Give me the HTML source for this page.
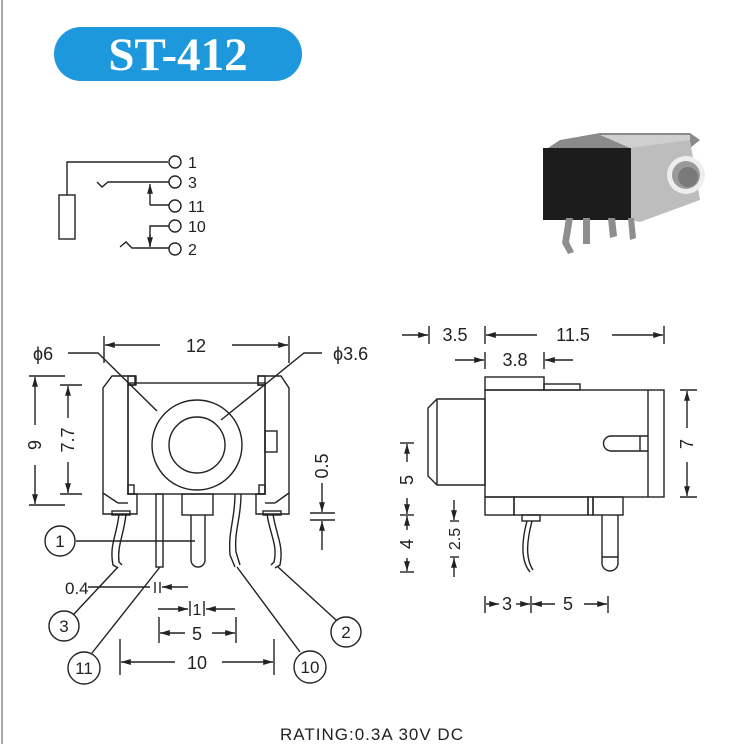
<!DOCTYPE html>
<html><head><meta charset="utf-8"><style>
html,body{margin:0;padding:0;background:#fff;width:735px;height:744px;overflow:hidden}
svg{display:block}
text{font-family:"Liberation Sans",Arial,sans-serif;fill:#222}
</style></head><body>
<svg width="735" height="744" viewBox="0 0 735 744" xmlns="http://www.w3.org/2000/svg">
<defs>
<marker id="a" viewBox="0 0 10 10" refX="10" refY="5" markerWidth="7" markerHeight="7" orient="auto-start-reverse"><path d="M0,2 L10,5 L0,8 z" fill="#222"/></marker>
</defs>
<rect x="1" y="0" width="2" height="744" fill="#aaa"/>
<rect x="54" y="27" width="248" height="54" rx="27" fill="#1e98dc"/>
<text x="178" y="70" text-anchor="middle" font-weight="bold" font-size="47" style="font-family:'Liberation Serif',serif;fill:#fff">ST-412</text>

<g stroke="#222" stroke-width="1.4" fill="none">
<polyline points="168,162 67,162 67,195"/>
<rect x="59" y="195" width="16" height="44"/>
<circle cx="175" cy="162" r="6"/>
<polyline points="97,182 102,187 108,182 169,182"/>
<circle cx="175" cy="182" r="6"/>
<line x1="150" y1="205" x2="150" y2="184" marker-end="url(#a)"/>
<line x1="150" y1="205" x2="169" y2="205"/>
<circle cx="175" cy="206" r="6"/>
<polyline points="169,226 150,226 150,246"/>
<line x1="150" y1="235" x2="150" y2="247" marker-end="url(#a)"/>
<circle cx="175" cy="226" r="6"/>
<polyline points="120,247 126,242 132,248 169,248"/>
<circle cx="175" cy="249" r="6"/>
</g>
<g font-size="16">
<text x="188" y="168">1</text><text x="188" y="188">3</text><text x="188" y="212">11</text><text x="188" y="232">10</text><text x="188" y="255">2</text>
</g>

<g>
<polygon points="560,140 600,133 690,133 700,140 690,148 630,150 545,150" fill="#8a8a8a"/>
<polygon points="600,135 690,135 690,145 630,148" fill="#cfcfcf"/>
<polygon points="630,148 690,140 700,200 640,222 630,220" fill="#bdbdbd"/>
<rect x="543" y="148" width="88" height="72" fill="#1c1c1c"/>
<circle cx="686" cy="175" r="19" fill="#eee"/>
<circle cx="686" cy="175" r="14" fill="#9a9a9a"/>
<circle cx="688" cy="177" r="10" fill="#7a7a7a"/>
<path d="M566,218 L562,243 L568,254 L574,252 L569,242 L573,218Z" fill="#8e8e8e"/>
<rect x="583" y="218" width="7" height="26" fill="#8e8e8e"/>
<path d="M608,218 L610,238 L617,236 L615,218Z" fill="#8e8e8e"/>
<path d="M628,218 L630,240 L636,238 L634,218Z" fill="#8e8e8e"/>
</g>

<g stroke="#222" stroke-width="1.4" fill="none">
<line x1="104" y1="336" x2="104" y2="363"/><line x1="289" y1="336" x2="289" y2="363"/>
<line x1="160" y1="345" x2="105" y2="345" marker-end="url(#a)"/>
<line x1="232" y1="345" x2="288" y2="345" marker-end="url(#a)"/>
<polyline points="68,353 98,353 157,411"/>
<polyline points="322,353 304,353 221,420"/>
<polygon points="112,376 135,376 135,385 128,385 128,494 137,494 137,514 103,514 103,388"/>
<line x1="103" y1="493" x2="118" y2="503"/><line x1="118" y1="503" x2="128" y2="503"/>
<rect x="128" y="376" width="8" height="9"/><rect x="128" y="485" width="6" height="9"/>
<polygon points="281,376 258,376 258,385 265,385 265,494 256,494 256,514 289,514 289,388"/>
<line x1="289" y1="493" x2="275" y2="503"/><line x1="275" y1="503" x2="265" y2="503"/>
<rect x="258" y="376" width="7" height="9"/><rect x="259" y="485" width="6" height="9"/>
<rect x="128" y="383" width="137" height="111"/>
<rect x="265" y="431" width="12" height="21"/>
<circle cx="197" cy="445" r="45"/><circle cx="197" cy="445" r="28"/>
<rect x="156" y="494" width="7" height="73"/>
<rect x="182" y="494" width="31" height="21"/>
<path d="M191,515 L191,560 A7,7 0 0 0 205,560 L205,515"/>
<path d="M235,494 C235,520 228,530 230,555 L235,567 M241,494 C241,520 234,530 236,552 L240,565"/>
<path d="M119,514 C117,535 109,545 113,565 L118,568 M126,514 C124,535 117,545 119,562 L122,565"/>
<path d="M273,514 C276,535 284,545 280,565 L275,568 M267,514 C270,535 278,545 274,562 L271,565"/>
<rect x="112" y="511" width="18" height="4"/><rect x="263" y="511" width="18" height="4"/>
<line x1="76" y1="541" x2="195" y2="541"/>
<line x1="74" y1="614" x2="118" y2="567"/>
<line x1="92" y1="653" x2="160" y2="567"/>
<line x1="300" y1="652" x2="237" y2="567"/>
<line x1="336" y1="620" x2="278" y2="567"/>
<circle cx="60" cy="541" r="15"/><circle cx="64" cy="626" r="15"/><circle cx="84" cy="668" r="16"/>
<circle cx="310" cy="667" r="16"/><circle cx="346" cy="632" r="15"/>
<line x1="88" y1="587" x2="150" y2="587"/>
<line x1="155" y1="582" x2="155" y2="593"/><line x1="160" y1="582" x2="160" y2="593"/>
<line x1="188" y1="587" x2="162" y2="587" marker-end="url(#a)"/>
<line x1="158" y1="609" x2="188" y2="609" marker-end="url(#a)"/>
<line x1="190" y1="601" x2="190" y2="616"/><line x1="204" y1="601" x2="204" y2="616"/>
<line x1="235" y1="609" x2="206" y2="609" marker-end="url(#a)"/>
<line x1="159" y1="617" x2="159" y2="643"/><line x1="236" y1="617" x2="236" y2="643"/>
<line x1="185" y1="633" x2="160" y2="633" marker-end="url(#a)"/>
<line x1="212" y1="633" x2="235" y2="633" marker-end="url(#a)"/>
<line x1="120" y1="639" x2="120" y2="675"/><line x1="274" y1="639" x2="274" y2="675"/>
<line x1="175" y1="662" x2="121" y2="662" marker-end="url(#a)"/>
<line x1="222" y1="662" x2="273" y2="662" marker-end="url(#a)"/>
<line x1="29" y1="376" x2="65" y2="376"/><line x1="29" y1="505" x2="65" y2="505"/>
<line x1="35" y1="425" x2="35" y2="377" marker-end="url(#a)"/>
<line x1="35" y1="465" x2="35" y2="504" marker-end="url(#a)"/>
<line x1="60" y1="385" x2="82" y2="385"/><line x1="60" y1="494" x2="82" y2="494"/>
<line x1="68" y1="418" x2="68" y2="386" marker-end="url(#a)"/>
<line x1="68" y1="462" x2="68" y2="493" marker-end="url(#a)"/>
<line x1="310" y1="513" x2="335" y2="513"/><line x1="310" y1="520" x2="335" y2="520"/>
<line x1="322" y1="483" x2="322" y2="512" marker-end="url(#a)"/>
<line x1="322" y1="550" x2="322" y2="521" marker-end="url(#a)"/>
</g>
<g font-size="18">
<text x="196" y="352" text-anchor="middle">12</text>
<text x="33" y="360">ϕ6</text>
<text x="333" y="360">ϕ3.6</text>
<text x="65" y="594" font-size="17">0.4</text>
<text x="197" y="615" text-anchor="middle" font-size="16">1</text>
<text x="197" y="640" text-anchor="middle">5</text>
<text x="197" y="669" text-anchor="middle">10</text>
<text x="60" y="547" text-anchor="middle" font-size="17">1</text>
<text x="64" y="632" text-anchor="middle" font-size="17">3</text>
<text x="84" y="674" text-anchor="middle" font-size="17">11</text>
<text x="310" y="673" text-anchor="middle" font-size="17">10</text>
<text x="346" y="638" text-anchor="middle" font-size="17">2</text>
<text transform="translate(41,445) rotate(-90)" text-anchor="middle">9</text>
<text transform="translate(74,440) rotate(-90)" text-anchor="middle">7.7</text>
<text transform="translate(328,466) rotate(-90)" text-anchor="middle">0.5</text>
</g>

<g stroke="#222" stroke-width="1.4" fill="none">
<line x1="429" y1="326" x2="429" y2="344"/><line x1="485" y1="326" x2="485" y2="344"/><line x1="664" y1="326" x2="664" y2="344"/>
<line x1="402" y1="335" x2="428" y2="335" marker-end="url(#a)"/>
<line x1="537" y1="335" x2="486" y2="335" marker-end="url(#a)"/>
<line x1="612" y1="335" x2="663" y2="335" marker-end="url(#a)"/>
<line x1="485" y1="352" x2="485" y2="369"/><line x1="544" y1="352" x2="544" y2="369"/>
<line x1="455" y1="360" x2="484" y2="360" marker-end="url(#a)"/>
<line x1="573" y1="360" x2="545" y2="360" marker-end="url(#a)"/>
<rect x="485" y="377" width="59" height="13"/>
<rect x="544" y="384" width="36" height="6"/>
<rect x="485" y="390" width="179" height="107"/>
<line x1="648" y1="390" x2="648" y2="497"/>
<polygon points="485,399 437,399 428,408 428,476 437,485 485,485"/>
<line x1="437" y1="399" x2="437" y2="485"/>
<path d="M648,436 L611,436 A7.5,7.5 0 0 0 611,451 L648,451 M640,436 L640,451"/>
<rect x="485" y="497" width="29" height="18"/>
<rect x="514" y="497" width="74" height="18"/>
<rect x="588" y="497" width="5" height="18"/>
<rect x="593" y="497" width="30" height="18"/>
<path d="M602,515 L602,563 A8,8 0 0 0 618,563 L618,515 M602,557 L618,557"/>
<rect x="522" y="515" width="18" height="6"/>
<path d="M527,521 C522,540 520,560 530,572 M532,521 C527,540 525,558 533,570"/>
<line x1="680" y1="390" x2="697" y2="390"/><line x1="680" y1="497" x2="697" y2="497"/>
<line x1="687" y1="428" x2="687" y2="391" marker-end="url(#a)"/>
<line x1="687" y1="462" x2="687" y2="496" marker-end="url(#a)"/>
<line x1="400" y1="443" x2="414" y2="443"/><line x1="400" y1="515" x2="414" y2="515"/><line x1="400" y1="572" x2="414" y2="572"/>
<line x1="407" y1="462" x2="407" y2="444" marker-end="url(#a)"/>
<line x1="407" y1="498" x2="407" y2="514" marker-end="url(#a)"/>
<line x1="407" y1="530" x2="407" y2="516" marker-end="url(#a)"/>
<line x1="407" y1="558" x2="407" y2="571" marker-end="url(#a)"/>
<line x1="454" y1="500" x2="454" y2="520" marker-end="url(#a)"/>
<line x1="450" y1="521" x2="459" y2="521"/><line x1="450" y1="557" x2="459" y2="557"/>
<line x1="454" y1="577" x2="454" y2="558" marker-end="url(#a)"/>
<line x1="485" y1="596" x2="485" y2="613"/><line x1="531" y1="596" x2="531" y2="613"/><line x1="608" y1="596" x2="608" y2="613"/>
<line x1="486" y1="604" x2="499" y2="604" marker-end="url(#a)"/>
<line x1="516" y1="604" x2="530" y2="604" marker-end="url(#a)"/>
<line x1="555" y1="604" x2="532" y2="604" marker-end="url(#a)"/>
<line x1="584" y1="604" x2="607" y2="604" marker-end="url(#a)"/>
</g>
<g font-size="18">
<text x="455" y="341" text-anchor="middle">3.5</text>
<text x="573" y="341" text-anchor="middle">11.5</text>
<text x="515" y="366" text-anchor="middle">3.8</text>
<text x="507" y="610" text-anchor="middle">3</text>
<text x="568" y="610" text-anchor="middle">5</text>
<text transform="translate(693,444) rotate(-90)" text-anchor="middle">7</text>
<text transform="translate(413,480) rotate(-90)" text-anchor="middle">5</text>
<text transform="translate(413,544) rotate(-90)" text-anchor="middle">4</text>
<text transform="translate(460,539) rotate(-90)" text-anchor="middle" font-size="16">2.5</text>
</g>

<text x="372" y="740" text-anchor="middle" font-size="17" letter-spacing="1">RATING:0.3A 30V DC</text>
</svg>
</body></html>
